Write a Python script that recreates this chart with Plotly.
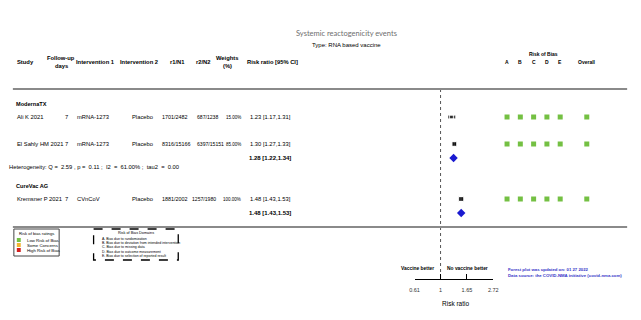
import math
import plotly.graph_objects as go

# ---------------- data ----------------
groups = ["ModernaTX", "CureVac AG"]
study_group = ["ModernaTX", "ModernaTX", "CureVac AG"]
studies = ["Ali K 2021", "El Sahly HM 2021", "Kremsner P 2021"]
followup = ["7", "7", "7"]
intervention1 = ["mRNA-1273", "mRNA-1273", "CVnCoV"]
intervention2 = ["Placebo", "Placebo", "Placebo"]
r1n1 = ["1701/2482", "8316/15166", "1881/2002"]
r2n2 = ["687/1238", "6397/15151", "1257/1980"]
weights = [15.00, 85.00, 100.00]
rr = [1.23, 1.30, 1.48]
rr_lo = [1.17, 1.27, 1.43]
rr_hi = [1.31, 1.33, 1.53]
pooled_rr = [1.28, 1.48]
pooled_lo = [1.22, 1.43]
pooled_hi = [1.34, 1.53]
heterogeneity = "Heterogeneity: Q =  2.59 , p =  0.11 ;  I2  =  61.00% ;  tau2  =  0.00"
rob_domains = ["A", "B", "C", "D", "E", "Overall"]
rob_ratings = [
    ["Low", "Low", "Low", "Low", "Low", "Low"],
    ["Low", "Low", "Low", "Low", "Low", "Low"],
    ["Low", "Low", "Low", "Low", "Low", "Low"],
]
axis_ticks = [0.61, 1, 1.65, 2.72]
axis_ticktext = ["0.61", "1", "1.65", "2.72"]

# ---------------- layout helpers ----------------
W, H = 641, 320
FONT = "Liberation Sans, Arial, sans-serif"
def X(p):
    return p / W

rob_colors = {"Low": "#74c043", "Some": "#f2b632", "High": "#d21f1f"}

# row layout (pixel rows)
group_y = {"ModernaTX": 104, "CureVac AG": 186}
study_y = [117, 144, 199]
pooled_y = [158, 213]
het_y = 167

fig = go.Figure()

# null line
fig.add_trace(go.Scatter(x=[1, 1], y=[89, 279], mode="lines",
                         line=dict(color="#555555", width=1, dash="dot"),
                         xaxis="x", yaxis="y", hoverinfo="skip"))

# study estimates
sizes = [3 + 2 * math.sqrt(w / 100) for w in weights]
fig.add_trace(go.Scatter(
    x=rr, y=study_y, mode="markers",
    marker=dict(symbol="square", size=sizes, color="black"),
    error_x=dict(type="data", symmetric=False,
                 array=[h - r for h, r in zip(rr_hi, rr)],
                 arrayminus=[r - l for r, l in zip(rr, rr_lo)],
                 color="black", thickness=0.8, width=1.5),
    xaxis="x", yaxis="y", cliponaxis=False))

# pooled diamonds
fig.add_trace(go.Scatter(
    x=pooled_rr, y=pooled_y, mode="markers",
    marker=dict(symbol="diamond", size=6.5, color="#1a1ad0"),
    xaxis="x", yaxis="y", cliponaxis=False))

# risk of bias squares
cats = ["A", "B", "C", "D", "E", " ", "Overall"]
for i, ratings in enumerate(rob_ratings):
    fig.add_trace(go.Scatter(
        x=[cats.index(d) for d in rob_domains], y=[study_y[i]] * len(rob_domains),
        mode="markers",
        marker=dict(symbol="square", size=5, color=[rob_colors[r] for r in ratings]),
        xaxis="x2", yaxis="y", cliponaxis=False))

ann = []
def T(x, y, text, size=6, bold=False, anchor="left", color="black", font=FONT, xref="paper"):
    if bold:
        text = "<b>" + text + "</b>"
    ann.append(dict(x=x if xref != "paper" else X(x), y=y, xref=xref, yref="y",
                    text=text, showarrow=False, xanchor=anchor, yanchor="middle",
                    font=dict(size=size, color=color, family=font)))

# titles
T(347, 33, "Systemic reactogenicity events", size=7.5, anchor="center",
  color="#6e6e6e", font="Lato, Open Sans, sans-serif")
T(347, 45, "Type: RNA based vaccine", size=6, anchor="center")

# header
T(21, 62, "Study", 5.8, True, "center")
T(57, 58, "Follow-up", 5.8, True, "center")
T(57, 66, "days", 5.8, True, "center")
T(92, 62, "Intervention 1", 5.8, True, "center")
T(136, 62, "Intervention 2", 5.8, True, "center")
T(175, 62, "r1/N1", 5.8, True, "center")
T(202, 62, "r2/N2", 5.8, True, "center")
T(226, 58, "Weights", 5.8, True, "center")
T(226, 66, "(%)", 5.8, True, "center")
T(271.5, 62, "Risk ratio [95% CI]", 5.8, True, "center")
T(547, 54, "Risk of Bias", 5, True, "center")
for d in rob_domains:
    ann.append(dict(x=cats.index(d), y=62, xref="x2", yref="y", text="<b>" + d + "</b>",
                    showarrow=False, xanchor="center", yanchor="middle",
                    font=dict(size=5, color="black", family=FONT)))

# groups
for g in groups:
    T(9, group_y[g], g, 5.6, True)

r2_left = [193, 193, 188]
for i in range(len(studies)):
    y = study_y[i]
    T(10, y, studies[i], 5.8)
    T(62, y, followup[i], 5.8, anchor="center")
    T(71, y, intervention1[i], 5.8)
    T(127, y, intervention2[i], 5.8)
    T(157, y, r1n1[i], 5.4)
    T(r2_left[i], y, r2n2[i], 5.1)
    T(242, y, "%.2f%%" % weights[i], 4.5, anchor="right")
    T(247, y, "%.2f [%.2f,%.2f]" % (rr[i], rr_lo[i], rr_hi[i]), 5.8)

for j in range(len(groups)):
    T(293, pooled_y[j], "%.2f [%.2f,%.2f]" % (pooled_rr[j], pooled_lo[j], pooled_hi[j]),
      6.0, True, "right")

T(2, het_y, heterogeneity, 5.8)

# direction labels and info
T(419, 268, "Vaccine better", 4.9, True, "center")
T(470, 268, "No vaccine better", 4.9, True, "center")
T(458, 303, "Risk ratio", 6.5, anchor="center")
T(509, 269, "Forest plot was updated on: 01 27 2022", 4.3, True, color="#3535c8")
T(509, 275, "Data source: the COVID-NMA initiative (covid-nma.com)", 4.3, True, color="#3535c8")

# legend boxes
T(32, 233, "Risk of bias ratings", 4.2, anchor="center")
legend_items = [("Low Risk of Bias", "Low"), ("Some Concerns", "Some"), ("High Risk of Bias", "High")]
shapes = []
for k, (lab, key) in enumerate(legend_items):
    yy = 240 + 5 * k
    T(20, yy, lab, 4.3)
    shapes.append(dict(type="rect", xref="paper", yref="y", x0=X(12), x1=X(16),
                       y0=yy - 2, y1=yy + 2, fillcolor=rob_colors[key], line=dict(width=0)))
shapes.append(dict(type="rect", xref="paper", yref="y", x0=X(9), x1=X(55), y0=229, y1=256,
                   line=dict(color="#444444", width=1)))

T(133, 233, "Risk of Bias Domains", 3.8, anchor="center")
domain_text = ["A. Bias due to randomization",
               "B. Bias due to deviation from intended intervention",
               "C. Bias due to missing data",
               "D. Bias due to outcome measurement",
               "E. Bias due to selection of reported result"]
for k, t in enumerate(domain_text):
    T(96, 239 + 4.2 * k, t, 3.5)
shapes.append(dict(type="rect", xref="paper", yref="y", x0=X(90), x1=X(176), y0=229, y1=260,
                   line=dict(color="black", width=1.3, dash="dash")))

# separators
for yy in (89, 227):
    shapes.append(dict(type="line", xref="paper", yref="y", x0=X(8), x1=X(632), y0=yy, y1=yy,
                       line=dict(color="#8a8a8a", width=2)))

eps = 1e-4
fig.update_layout(
    width=W, height=H, margin=dict(l=0, r=0, t=0, b=0),
    paper_bgcolor="white", plot_bgcolor="rgba(0,0,0,0)",
    showlegend=False, annotations=ann, shapes=shapes,
    xaxis=dict(type="log", domain=[X(416), X(496)],
               range=[math.log10(0.61) - eps, math.log10(2.72) + eps],
               anchor="free", position=1 - 279 / H,
               showline=True, linecolor="black", linewidth=1,
               ticks="inside", ticklen=5, tickcolor="black", tickwidth=1,
               tickvals=axis_ticks, ticktext=axis_ticktext,
               tickfont=dict(size=5.5, color="#333333", family=FONT),
               ticklabelstandoff=5,
               showgrid=False, zeroline=False, fixedrange=True),
    xaxis2=dict(type="linear", domain=[X(510 - 6.75), X(510 + 6.5 * 13.5)],
                range=[-0.5, 6.5], anchor="y", visible=False, fixedrange=True),
    yaxis=dict(range=[H, 0], domain=[0, 1], visible=False, fixedrange=True),
)

fig.write_html("out.html", config={"displayModeBar": False},
               post_script="document.body.style.margin='0';")
